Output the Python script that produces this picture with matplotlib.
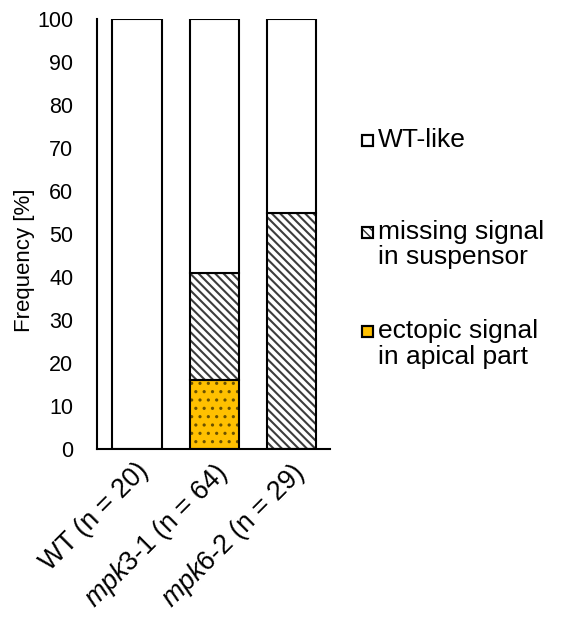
import matplotlib as mpl
import matplotlib.pyplot as plt
from matplotlib.patches import Rectangle
from matplotlib.transforms import ScaledTranslation

plt.rcParams['font.family'] = ['Liberation Sans', 'DejaVu Sans']
plt.rcParams['mathtext.fontset'] = 'custom'
plt.rcParams['mathtext.it'] = 'Liberation Sans:italic'
plt.rcParams['mathtext.rm'] = 'Liberation Sans'

genotypes = ["WT (n = 20)", r"$\it{mpk3}$-$\it{1}$ (n = 64)", r"$\it{mpk6}$-$\it{2}$ (n = 29)"]
ectopic = [0, 16, 0]
missing = [0, 25, 55]
wt_like = [100, 59, 45]
labels = ["WT-like", "missing signal\nin suspensor", "ectopic signal\nin apical part"]

ORANGE = "#FFC000"
STRIPE = "#3c3c3c"
DOT = "#6b5200"

fig = plt.figure(figsize=(5.61, 6.41), dpi=100)
ax = fig.add_axes([0.173, 0.2995, 0.415, 0.6705])

x = list(range(len(genotypes)))
w = 0.64
bottom2 = ectopic
bottom3 = [e + m for e, m in zip(ectopic, missing)]


def hatch_lw(patch, lw):
    if hasattr(patch, "set_hatch_linewidth"):
        patch.set_hatch_linewidth(lw)


with mpl.rc_context({"hatch.linewidth": 1.1}):
    bars = ax.bar(x, ectopic, w, color=ORANGE, edgecolor=DOT, linewidth=0, hatch="..")
    for p in bars:
        hatch_lw(p, 1.1)
with mpl.rc_context({"hatch.linewidth": 1.5}):
    bars = ax.bar(x, missing, w, bottom=bottom2, color="white", edgecolor=STRIPE,
                  linewidth=0, hatch="\\\\\\\\")
    for p in bars:
        hatch_lw(p, 1.5)

# outlines
ax.bar(x, ectopic, w, color="none", edgecolor="black", linewidth=1.5)
ax.bar(x, missing, w, bottom=bottom2, color="none", edgecolor="black", linewidth=1.5)
ax.bar(x, wt_like, w, bottom=bottom3, color="white", edgecolor="black", linewidth=1.5)

ax.set_xlim(-0.52, 2.5)
ax.set_ylim(0, 100)
ax.set_yticks(range(0, 101, 10))
ax.tick_params(axis="y", length=0, labelsize=15.5, pad=17)
ax.tick_params(axis="x", length=0, labelsize=19.3, pad=6.5)
ax.set_xticks(x)
ax.set_xticklabels(genotypes, rotation=45, ha="right", va="top", rotation_mode="anchor")
offset = ScaledTranslation(-0.015, 0, fig.dpi_scale_trans)
for lab in ax.get_xticklabels():
    lab.set_transform(lab.get_transform() + offset)
for s in ["top", "right"]:
    ax.spines[s].set_visible(False)
for s in ["left", "bottom"]:
    ax.spines[s].set_linewidth(1.5)
ax.set_ylabel("Frequency [%]", fontsize=16)
ax.yaxis.set_label_coords(-0.268, 0.44)

# legend drawn by hand (figure pixel coords, origin top-left)
W, H = 561, 641
legend_rows = [
    (140, 140, dict(facecolor="white", edgecolor="black")),
    (232, 244.5, dict(facecolor="white", edgecolor="#333333", hatch="\\\\\\\\")),
    (331, 344, dict(facecolor=ORANGE, edgecolor="black")),
]
sq = 11
for (sy, ty, style), lab in zip(legend_rows, labels):
    xy = (362 / W, 1 - (sy + sq / 2) / H)
    fig.add_artist(Rectangle(xy, sq / W, sq / H, transform=fig.transFigure,
                             linewidth=1.5, **style))
    fig.add_artist(Rectangle(xy, sq / W, sq / H, transform=fig.transFigure,
                             linewidth=1.5, facecolor="none", edgecolor="black"))
    fig.text(378 / W, 1 - ty / H, lab, fontsize=19, va="center", ha="left",
             linespacing=1.1)

fig.savefig("out.png", dpi=100)
